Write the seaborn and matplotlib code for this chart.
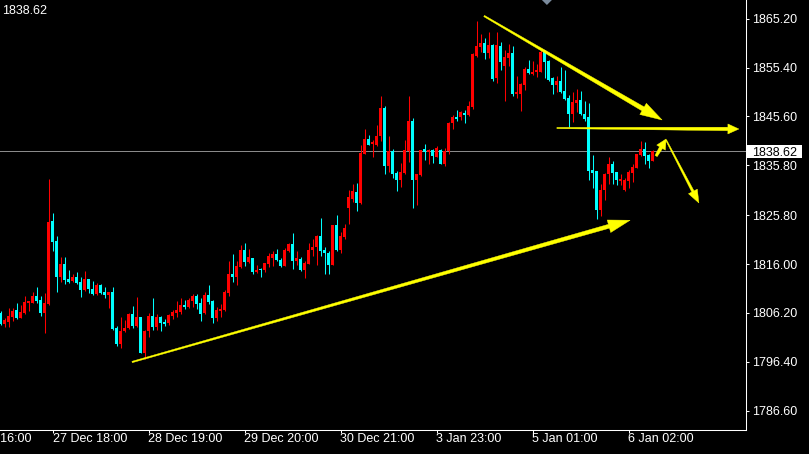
import matplotlib
matplotlib.use("Agg")
import matplotlib.pyplot as plt
import matplotlib.transforms as mtransforms
from matplotlib.patches import Polygon, Rectangle
import numpy as np
import pandas as pd
import seaborn as sns

# ---------------- data (hourly XAUUSD candles) ----------------
opens = [1806.25, 1803.98, 1804.45, 1805.45, 1806.79, 1805.25, 1806.12, 1808.12, 1808.26, 1809.59,
         1808.79, 1806.25, 1807.99, 1824.63, 1820.62, 1813.47, 1816.01, 1813.00, 1812.60, 1813.40,
         1812.40, 1810.80, 1813.00, 1811.00, 1810.06, 1811.80, 1810.39, 1809.79, 1810.39, 1803.18,
         1799.97, 1802.57, 1803.18, 1805.92, 1803.58, 1805.39, 1798.24, 1802.58, 1805.52, 1803.32,
         1805.39, 1804.39, 1804.18, 1805.59, 1806.12, 1806.39, 1807.79, 1807.33, 1808.66, 1809.60,
         1808.20, 1806.12, 1809.73, 1808.60, 1805.25, 1806.66, 1806.79, 1810.27, 1814.01, 1813.48,
         1815.41, 1818.82, 1816.42, 1817.22, 1814.41, 1815.01, 1814.81, 1816.01, 1817.22, 1817.95,
         1816.88, 1815.61, 1818.62, 1820.02, 1816.61, 1817.08, 1814.81, 1816.01, 1818.82, 1819.42,
         1821.63, 1818.82, 1818.29, 1815.81, 1823.83, 1818.82, 1821.43, 1827.24, 1829.11, 1830.45,
         1828.25, 1838.07, 1841.08, 1840.08, 1839.88, 1841.68, 1847.30, 1835.66, 1838.67, 1834.26,
         1832.86, 1834.26, 1838.67, 1844.69, 1832.86, 1833.86, 1839.01, 1838.47, 1838.87, 1837.47,
         1838.87, 1836.07, 1838.67, 1844.22, 1845.49, 1845.49, 1846.29, 1845.96, 1847.49, 1857.72,
         1859.52, 1860.32, 1858.32, 1859.99, 1853.30, 1859.72, 1855.71, 1857.31, 1858.32, 1850.10,
         1850.10, 1851.90, 1855.11, 1854.11, 1854.51, 1854.51, 1858.52, 1856.71, 1853.30, 1851.90,
         1852.70, 1850.70, 1849.29, 1846.08, 1848.29, 1848.89, 1846.08, 1845.48, 1834.86, 1834.66,
         1826.84, 1830.85, 1834.06, 1836.06, 1834.46, 1832.65, 1830.85, 1832.65, 1834.26, 1835.26,
         1837.87, 1839.07, 1837.87, 1836.66]
highs = [1806.60, 1805.18, 1807.19, 1807.19, 1808.12, 1807.79, 1809.59, 1808.59, 1810.39, 1811.47,
         1809.59, 1810.13, 1833.06, 1826.30, 1821.62, 1817.35, 1817.35, 1814.81, 1814.00, 1814.41,
         1813.40, 1814.61, 1813.00, 1812.60, 1812.20, 1812.00, 1811.40, 1810.39, 1811.40, 1803.58,
         1805.38, 1804.78, 1806.18, 1807.59, 1809.33, 1805.39, 1802.78, 1806.19, 1809.20, 1805.99,
         1805.59, 1804.99, 1805.99, 1806.79, 1808.60, 1809.13, 1808.80, 1809.20, 1810.00, 1810.00,
         1809.13, 1810.40, 1811.81, 1808.80, 1807.33, 1808.00, 1810.80, 1816.62, 1818.02, 1816.62,
         1819.76, 1820.16, 1819.02, 1817.30, 1815.81, 1815.21, 1816.28, 1818.22, 1818.69, 1818.95,
         1817.15, 1819.22, 1820.29, 1822.23, 1818.62, 1817.42, 1816.61, 1820.22, 1821.03, 1821.83,
         1825.24, 1819.42, 1818.62, 1823.83, 1825.84, 1822.43, 1824.03, 1830.85, 1832.06, 1832.26,
         1839.88, 1843.09, 1841.88, 1840.88, 1843.89, 1849.70, 1847.70, 1841.68, 1839.07, 1834.66,
         1836.27, 1840.88, 1849.70, 1845.29, 1834.06, 1838.87, 1840.08, 1839.07, 1839.07, 1839.67,
         1839.07, 1839.27, 1844.55, 1845.96, 1846.89, 1846.69, 1846.89, 1848.70, 1858.32, 1864.73,
         1862.13, 1861.33, 1862.53, 1860.12, 1862.53, 1860.52, 1858.92, 1860.12, 1859.72, 1853.70,
         1852.30, 1855.51, 1856.91, 1856.71, 1856.11, 1858.92, 1858.92, 1856.91, 1853.50, 1853.70,
         1855.51, 1854.91, 1849.89, 1850.50, 1851.10, 1850.70, 1848.69, 1848.29, 1837.87, 1834.66,
         1832.05, 1834.26, 1837.46, 1836.66, 1834.46, 1834.06, 1833.25, 1834.86, 1836.06, 1838.07,
         1840.67, 1840.47, 1838.07, 1838.87]
lows = [1803.70, 1803.44, 1803.44, 1804.65, 1805.05, 1805.11, 1805.98, 1806.65, 1808.12, 1808.12,
        1805.58, 1802.24, 1807.79, 1818.68, 1810.46, 1812.47, 1812.00, 1812.27, 1812.40, 1812.00,
        1809.46, 1810.66, 1810.13, 1809.79, 1809.86, 1809.99, 1809.19, 1807.25, 1802.77, 1799.63,
        1799.23, 1802.37, 1802.98, 1803.25, 1803.32, 1798.24, 1796.90, 1801.44, 1802.78, 1802.78,
        1802.58, 1803.58, 1803.72, 1805.05, 1805.32, 1805.99, 1806.93, 1807.19, 1807.33, 1807.06,
        1804.65, 1805.99, 1808.00, 1804.25, 1804.65, 1805.45, 1806.66, 1809.60, 1812.41, 1811.81,
        1815.28, 1815.62, 1816.28, 1814.01, 1814.28, 1813.47, 1814.48, 1815.48, 1815.61, 1816.61,
        1815.41, 1815.61, 1818.49, 1815.08, 1815.81, 1814.68, 1813.27, 1816.01, 1817.62, 1815.81,
        1817.62, 1814.01, 1814.01, 1815.81, 1818.62, 1818.22, 1821.03, 1824.03, 1828.51, 1826.64,
        1828.05, 1838.07, 1839.88, 1837.47, 1839.67, 1840.68, 1834.06, 1834.46, 1833.26, 1830.65,
        1831.45, 1834.06, 1836.47, 1827.24, 1827.84, 1833.66, 1836.87, 1836.07, 1836.27, 1837.47,
        1836.07, 1835.66, 1838.07, 1843.08, 1844.69, 1844.89, 1844.29, 1845.69, 1847.09, 1857.58,
        1858.52, 1857.11, 1857.31, 1852.70, 1852.30, 1854.91, 1848.69, 1855.71, 1849.69, 1849.29,
        1846.69, 1850.90, 1854.11, 1853.91, 1853.50, 1854.51, 1853.30, 1852.70, 1850.10, 1850.50,
        1850.30, 1848.89, 1843.48, 1844.48, 1846.49, 1845.88, 1844.68, 1832.85, 1831.25, 1825.03,
        1825.63, 1828.84, 1832.05, 1832.05, 1831.85, 1831.85, 1830.65, 1831.25, 1832.45, 1835.26,
        1837.66, 1836.06, 1835.26, 1836.66]
closes = [1803.98, 1804.78, 1805.58, 1806.65, 1805.18, 1806.38, 1808.39, 1808.59, 1809.66, 1808.59,
          1806.25, 1808.26, 1824.50, 1820.49, 1813.47, 1816.01, 1812.80, 1812.40, 1813.40, 1812.20,
          1810.80, 1813.00, 1811.00, 1809.99, 1811.80, 1810.19, 1809.79, 1810.39, 1802.98, 1799.97,
          1802.57, 1803.18, 1805.98, 1803.58, 1805.45, 1798.24, 1802.58, 1805.52, 1803.45, 1805.32,
          1804.25, 1803.98, 1805.79, 1806.46, 1806.79, 1807.73, 1807.33, 1808.80, 1809.60, 1808.00,
          1805.99, 1809.73, 1808.40, 1805.25, 1806.79, 1807.06, 1810.40, 1814.01, 1813.48, 1815.62,
          1818.82, 1816.42, 1817.42, 1814.41, 1814.81, 1814.81, 1816.15, 1817.62, 1817.95, 1816.82,
          1815.61, 1818.82, 1820.02, 1816.68, 1817.22, 1814.81, 1816.28, 1818.82, 1819.49, 1821.63,
          1818.62, 1818.29, 1815.81, 1823.83, 1818.82, 1821.63, 1823.23, 1829.45, 1830.65, 1828.25,
          1838.27, 1841.08, 1839.88, 1840.48, 1841.68, 1847.30, 1835.66, 1838.67, 1834.06, 1832.86,
          1834.46, 1838.87, 1844.69, 1832.86, 1834.06, 1838.87, 1838.47, 1838.87, 1837.67, 1839.21,
          1836.07, 1838.67, 1844.35, 1845.49, 1845.09, 1846.49, 1845.89, 1847.70, 1858.18, 1859.72,
          1860.32, 1858.32, 1859.92, 1853.10, 1859.99, 1856.51, 1857.51, 1858.32, 1850.10, 1850.50,
          1852.10, 1855.11, 1854.31, 1854.51, 1854.91, 1858.52, 1856.51, 1852.90, 1851.90, 1852.70,
          1850.50, 1849.09, 1846.08, 1848.49, 1848.89, 1846.08, 1845.08, 1834.66, 1834.32, 1826.84,
          1830.85, 1834.06, 1836.06, 1834.26, 1832.85, 1833.05, 1832.85, 1834.46, 1835.46, 1838.07,
          1839.07, 1837.66, 1836.66, 1838.62]

last_price = 1838.62
y_ticks = [1865.20, 1855.40, 1845.60, 1835.80, 1825.80, 1816.00, 1806.20, 1796.40, 1786.60]
x_tick_bars = [-11, 13, 37, 61, 85, 109, 133, 157]
x_tick_labels = ["26 Dec 16:00", "27 Dec 18:00", "28 Dec 19:00", "29 Dec 20:00",
                 "30 Dec 21:00", "3 Jan 23:00", "5 Jan 01:00", "6 Jan 02:00"]

# hand-drawn yellow arrows: (bar index, price) of tail and tip
arrow_tail_bar = [32.9, 120.9, 139.1, 163.9, 166.4]
arrow_tail_price = [1796.36, 1865.74, 1843.28, 1837.67, 1840.88]
arrow_tip_bar = [157.4, 165.4, 184.6, 166.4, 174.6]
arrow_tip_price = [1824.79, 1844.89, 1843.08, 1841.08, 1828.25]
# chart-shift marker position (bar index)
shift_marker_bar = 136.6

df = pd.DataFrame({"open": opens, "high": highs, "low": lows, "close": closes})
df["bar"] = np.arange(len(df))
df["up"] = df["close"] >= df["open"]

# ---------------- style ----------------
sns.set_theme(style="dark", rc={"axes.facecolor": "black", "figure.facecolor": "black",
                                "savefig.facecolor": "black", "axes.grid": False})
plt.rcParams["font.family"] = ["Liberation Sans", "DejaVu Sans"]

UP = "#ff0000"
DOWN = "#00ffff"
YELLOW = "#ffff00"

W, H = 809, 454
fig = plt.figure(figsize=(W / 100, H / 100), dpi=100)
ax_l, ax_r, ax_t, ax_b = -60.0, 745.5, 0.0, 429.5
ax = fig.add_axes([ax_l / W, (H - ax_b) / H, (ax_r - ax_l) / W, (ax_b - ax_t) / H])
ax.set_facecolor("black")

px_per_bar = 4.0
first_bar_px = 0.5
ax.set_xlim((ax_l - first_bar_px) / px_per_bar, (ax_r - first_bar_px) / px_per_bar)
ref_price, ref_px, px_per_unit = 1865.2, 18.7, 4.987
ax.set_ylim(ref_price - (ax_b - ref_px) / px_per_unit, ref_price + ref_px / px_per_unit)

# ---------------- candles ----------------
colors = np.where(df["up"], UP, DOWN)
ax.axhline(last_price, color="#8a8a8a", lw=0.72, zorder=1)
ax.vlines(df["bar"], df["low"], df["high"], colors=colors, lw=0.75, zorder=2)
body_h = np.maximum((df["close"] - df["open"]).abs(), 0.2)
body_b = np.minimum(df["open"], df["close"])
ax.bar(df["bar"], body_h, bottom=body_b, width=0.75, color=colors, linewidth=0, zorder=3)

# ---------------- axes styling ----------------
for s in ["left", "top"]:
    ax.spines[s].set_visible(False)
for s in ["right", "bottom"]:
    ax.spines[s].set_color("white")
    ax.spines[s].set_linewidth(0.75)

ax.yaxis.tick_right()
ax.set_yticks(y_ticks)
ax.set_yticklabels([f"{v:.2f}" for v in y_ticks])
ax.tick_params(axis="y", colors="white", length=2.2, width=0.75, pad=2.6, labelsize=9,
               direction="out", right=True, left=False)
ax.set_xticks(x_tick_bars)
ax.set_xticklabels(x_tick_labels)
ax.tick_params(axis="x", colors="white", length=2.2, width=0.75, pad=0.6, labelsize=9,
               direction="out", bottom=True)
for lab in ax.get_xticklabels():
    lab.set_horizontalalignment("left")

# current price box on the right axis
blend = mtransforms.blended_transform_factory(ax.transAxes, ax.transData)
box_x0 = (746.7 - ax_l) / (ax_r - ax_l)
box_w = 55.3 / (ax_r - ax_l)
box_h = 13.3 / px_per_unit
ax.add_patch(Rectangle((box_x0, last_price - box_h / 2 - 0.1), box_w, box_h, transform=blend,
                       facecolor="white", edgecolor="none", clip_on=False, zorder=5))
ax.text(box_x0 + box_w / 2, last_price - 0.1, f"{last_price:.2f}", transform=blend, ha="center",
        va="center_baseline", color="black", fontsize=9, clip_on=False, zorder=6)

# top-left price
fig.text(2 / W, 1 - 14 / H, f"{last_price:.2f}", color="white", fontsize=9, va="baseline", ha="left")

# chart shift marker (grey triangle at top)
top = ax.get_ylim()[1]
tri_h = 5 / px_per_unit
ax.add_patch(Polygon([[shift_marker_bar - 1.25, top], [shift_marker_bar + 1.25, top],
                      [shift_marker_bar, top - tri_h]], closed=True, facecolor="#7a8a9c",
                     edgecolor="none", clip_on=False, zorder=6))

# ---------------- tapered yellow arrows ----------------
def tapered_arrow(ax, tail, tip, w0, w1, head_len, head_w):
    t = ax.transData.transform(tail)
    p = ax.transData.transform(tip)
    d = p - t
    L = np.hypot(*d)
    u = d / L
    n = np.array([-u[1], u[0]])
    neck = p - u * head_len
    pts = [t + n * w0 / 2, neck + n * w1 / 2, neck + n * head_w / 2, p,
           neck - n * head_w / 2, neck - n * w1 / 2, t - n * w0 / 2]
    data_pts = ax.transData.inverted().transform(np.array(pts))
    ax.add_patch(Polygon(data_pts, closed=True, facecolor=YELLOW, edgecolor=YELLOW,
                         lw=0.3, zorder=7, clip_on=False))

arrow_style = [(1.4, 4.0, 22, 13), (1.4, 4.5, 22, 13), (1.2, 3.5, 11, 10),
               (2.5, 3.5, 10, 10), (1.0, 2.5, 13, 10)]
for k in range(len(arrow_tail_bar)):
    w0, w1, hl, hw = arrow_style[k]
    tapered_arrow(ax, (arrow_tail_bar[k], arrow_tail_price[k]),
                  (arrow_tip_bar[k], arrow_tip_price[k]), w0, w1, hl, hw)

fig.savefig("out.png", dpi=100, facecolor="black")
